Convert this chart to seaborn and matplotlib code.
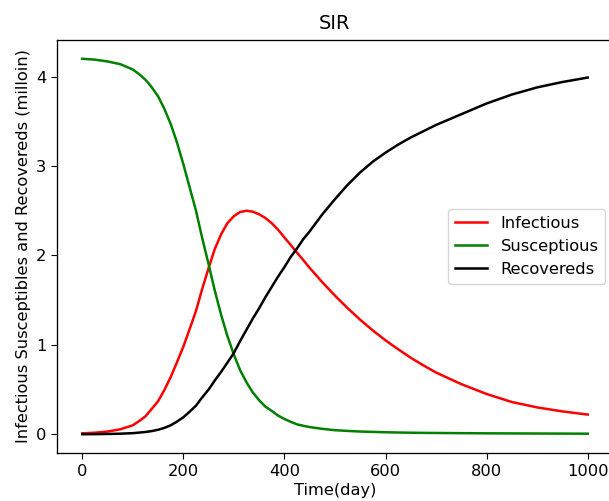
import matplotlib
matplotlib.use('Agg')
import matplotlib.pyplot as plt
import seaborn as sns
import pandas as pd

# values (millions)
days = [0, 25, 50, 75, 100, 112, 125, 137, 150, 162, 175, 187, 200, 212, 225,
        237, 250, 262, 275, 287, 300, 312, 325, 337, 350, 362, 375, 387, 400,
        412, 425, 437, 450, 475, 500, 525, 550, 575, 600, 625, 650, 675, 700,
        750, 800, 850, 900, 950, 1000]

infectious = [0.01, 0.017, 0.03, 0.055, 0.1, 0.145, 0.2, 0.28, 0.37, 0.49, 0.64,
              0.80, 0.98, 1.17, 1.38, 1.62, 1.86, 2.07, 2.24, 2.36, 2.44, 2.485,
              2.50, 2.49, 2.46, 2.42, 2.36, 2.29, 2.20, 2.12, 2.03, 1.95, 1.86,
              1.70, 1.55, 1.41, 1.28, 1.16, 1.05, 0.95, 0.855, 0.77, 0.69, 0.56,
              0.45, 0.36, 0.30, 0.255, 0.22]

susceptible = [4.20, 4.19, 4.17, 4.14, 4.08, 4.03, 3.965, 3.885, 3.78, 3.645,
               3.47, 3.27, 3.02, 2.77, 2.50, 2.20, 1.90, 1.61, 1.33, 1.10, 0.89,
               0.72, 0.58, 0.47, 0.38, 0.31, 0.26, 0.21, 0.17, 0.14, 0.11, 0.095,
               0.08, 0.06, 0.045, 0.037, 0.03, 0.026, 0.022, 0.019, 0.017, 0.015,
               0.014, 0.012, 0.01, 0.009, 0.008, 0.007, 0.006]

recovered = [0.0, 0.001, 0.003, 0.006, 0.012, 0.018, 0.025, 0.035, 0.05, 0.07,
             0.1, 0.14, 0.19, 0.25, 0.32, 0.41, 0.5, 0.6, 0.7, 0.8, 0.91, 1.04,
             1.17, 1.29, 1.41, 1.53, 1.65, 1.76, 1.87, 1.98, 2.08, 2.18, 2.27,
             2.46, 2.63, 2.79, 2.93, 3.05, 3.15, 3.24, 3.32, 3.39, 3.46, 3.58,
             3.70, 3.80, 3.88, 3.94, 3.99]

labels = ['Infectious', 'Susceptious', 'Recovereds']
colors = ['red', 'green', 'black']

frames = []
for name, vals in zip(labels, [infectious, susceptible, recovered]):
    frames.append(pd.DataFrame({'day': days, 'value': vals, 'group': name}))
df = pd.concat(frames, ignore_index=True)

fs = 11.7
plt.rcParams['xtick.major.size'] = 4.1
plt.rcParams['ytick.major.size'] = 4.1
plt.rcParams['axes.linewidth'] = 0.95

fig = plt.figure(figsize=(6.09, 5.01), dpi=100)
# the reference is cropped on the right, so the axes run past the figure edge
ax = fig.add_axes([57 / 609, 48 / 501, 556 / 609, 413 / 501])

sns.lineplot(data=df, x='day', y='value', hue='group', hue_order=labels,
             palette=dict(zip(labels, colors)), linewidth=1.8, ax=ax)

ax.set_xlim(-50, 1050)
ax.set_ylim(-0.21, 4.41)
ax.set_xticks([0, 200, 400, 600, 800, 1000])
ax.set_yticks([0, 1, 2, 3, 4])
ax.tick_params(labelsize=fs)
ax.set_title('SIR', fontsize=14, pad=8)
ax.set_xlabel('Time(day)', fontsize=fs, labelpad=3)
ax.set_ylabel('Infectious Susceptibles and Recovereds (milloin)', fontsize=fs)
ax.legend(loc='center right', fontsize=fs)

fig.savefig('out.png', dpi=100)
